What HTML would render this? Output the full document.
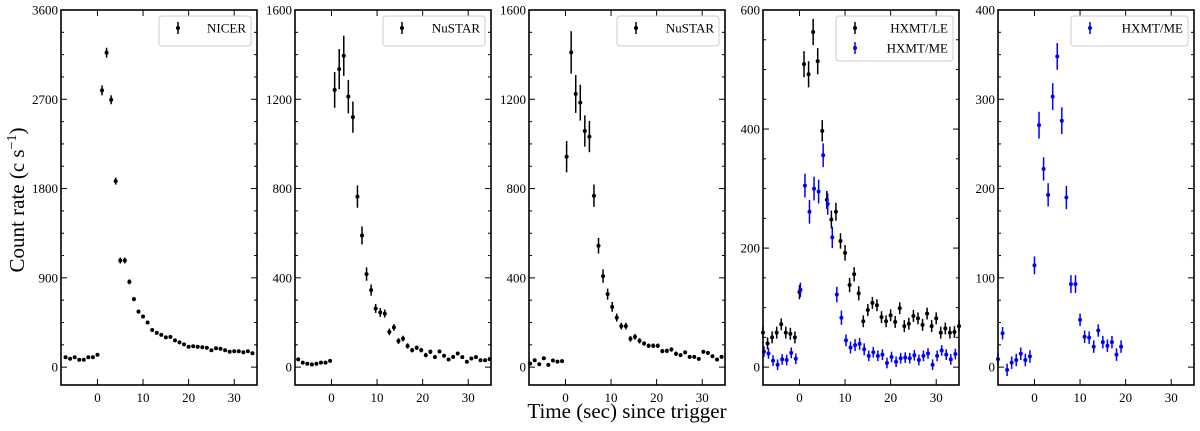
<!DOCTYPE html>
<html><head><meta charset="utf-8">
<style>
html,body{margin:0;padding:0;background:#fff;}
svg{display:block;font-family:"Liberation Serif",serif;}
</style></head>
<body>
<svg id="chart" width="1200" height="431" viewBox="0 0 1200 431" xmlns="http://www.w3.org/2000/svg">
<text x="0" y="0" transform="translate(24,200) rotate(-90)" font-size="21" text-anchor="middle">Count rate (c s<tspan font-size="14" dy="-8">−1</tspan><tspan dy="8">)</tspan></text>
<text x="627" y="418" font-size="21" text-anchor="middle">Time (sec) since trigger</text>
</svg>
<script>
// ---- data ----
const nicerX = [-7,-6,-5,-4,-3,-2,-1,0,1,2,3,4,5,6,7,8,9,10,11,12,13,14,15,16,17,18,19,20,21,22,23,24,25,26,27,28,29,30,31,32,33,34];
const nicerY = [100,85,100,75,75,100,100,125,2790,3170,2695,1875,1075,1075,860,685,560,510,450,375,345,325,300,305,270,250,230,205,210,205,200,195,170,190,185,170,155,160,160,150,160,140];
const nicerErr = [15,15,15,15,15,15,15,15,50,50,45,35,30,30,25,20,20,18,15,15,15,12,12,12,12,12,12,12,12,12,12,12,12,12,12,12,12,12,12,12,12,12];

const nustar1X = [-7.3,-6.3,-5.3,-4.3,-3.3,-2.3,-1.3,-0.3,0.7,1.7,2.7,3.7,4.7,5.7,6.7,7.7,8.7,9.7,10.7,11.7,12.7,13.7,14.7,15.7,16.7,17.7,18.7,19.7,20.7,21.7,22.7,23.7,24.7,25.7,26.7,27.7,28.7,29.7,30.7,31.7,32.7,33.7,34.7];
const nustar1Y = [35,20,15,12,15,20,20,28,1242,1335,1395,1212,1120,764,590,417,345,263,245,240,158,178,117,128,95,76,87,76,54,69,45,70,51,34,46,61,45,24,39,45,31,31,36];
const nustar1Err = [6,6,6,6,6,6,6,6,80,90,90,75,70,50,40,30,25,20,20,18,15,15,13,13,12,10,10,10,10,10,8,8,8,8,8,8,8,8,8,8,8,8,8];

const nustar2X = [-7.75,-6.75,-5.75,-4.75,-3.75,-2.75,-1.75,-0.75,0.25,1.25,2.25,3.25,4.25,5.25,6.25,7.25,8.25,9.25,10.25,11.25,12.25,13.25,14.25,15.25,16.25,17.25,18.25,19.25,20.25,21.25,22.25,23.25,24.25,25.25,26.25,27.25,28.25,29.25,30.25,31.25,32.25,33.25,34.25];
const nustar2Y = [16,31,13,40,10,30,25,27,943,1410,1224,1185,1058,1033,768,544,408,327,270,222,184,184,127,136,118,106,96,96,96,72,73,79,60,54,66,46,46,37,69,64,49,34,46];
const nustar2Err = [6,6,6,6,6,6,6,6,70,95,85,80,70,70,50,35,30,25,22,18,15,15,13,13,12,10,10,10,10,10,10,10,10,8,8,8,8,8,8,8,8,8,8];

const leX = [-8,-7,-6,-5,-4,-3,-2,-1,0,1,2,3,4,5,6,7,8,9,10,11,12,13,14,15,16,17,18,19,20,21,22,23,24,25,26,27,28,29,30,31,32,33,34,35];
const leY = [58,40,50,58,72,58,56,50,126,509,492,563,514,397,281,248,261,212,192,138,156,124,77,96,108,104,84,77,87,76,99,69,73,86,82,71,90,69,82,58,65,58,59,69];
const leErr = [10,10,10,10,10,10,10,10,12,22,22,22,22,18,15,15,15,13,13,12,12,12,10,10,10,10,10,10,10,10,10,10,10,10,10,10,10,10,10,10,10,10,10,10];

const meX = [-7.8,-6.8,-5.8,-4.8,-3.8,-2.8,-1.8,-0.8,0.2,1.2,2.2,3.2,4.2,5.2,6.2,7.2,8.2,9.2,10.2,11.2,12.2,13.2,14.2,15.2,16.2,17.2,18.2,19.2,20.2,21.2,22.2,23.2,24.2,25.2,26.2,27.2,28.2,29.2,30.2,31.2,32.2,33.2,34.2];
const meY = [26,23,11,4,13,12,24,14,130,305,261,300,295,356,274,218,122,83,45,33,37,39,30,19,25,19,21,7,17,9,15,16,15,20,12,19,23,4,19,28,21,13,22];
const meErr = [9,9,9,9,9,9,9,9,12,20,20,20,20,20,18,18,13,12,10,10,10,10,10,9,9,9,9,9,9,9,9,9,9,9,9,9,9,9,9,9,9,9,9];

const me2X = [-8,-7,-6,-5,-4,-3,-2,-1,0,1,2,3,4,5,6,7,8,9,10,11,12,13,14,15,16,17,18,19];
const me2Y = [9,38,-3,5,8,15,8,12,114,271,222,193,303,348,276,190,93,93,53,34,33,23,41,28,24,28,14,23];
const me2Err = [7,7,7,7,7,7,7,7,10,15,13,13,15,15,15,13,10,10,7,7,7,7,7,7,7,7,7,7];

const xTicks = [0,10,20,30];
const yTicks1 = [0,900,1800,2700,3600];
const yTicks2 = [0,400,800,1200,1600];
const yTicks4 = [0,200,400,600];
const yTicks5 = [0,100,200,300,400];

const svg = document.getElementById('chart');
const NS = 'http://www.w3.org/2000/svg';
function mk(tag, attrs, parent){
  const e = document.createElementNS(NS, tag);
  for (const k in attrs) e.setAttribute(k, attrs[k]);
  (parent||svg).appendChild(e);
  return e;
}

const TOP = 10, BOT = 385, W = 196;
function panel(idx, left, yMax, yTicks, series, legend){
  const xMin = -8, xMax = 35, yMin = -0.05*yMax;
  const xs = v => left + (v - xMin) / (xMax - xMin) * W;
  const ys = v => BOT - (v - yMin) / (yMax - yMin) * (BOT - TOP);
  const g = mk('g', {});
  
  
  // ticks
  xTicks.forEach(t => {
    const x = xs(t);
    const a = mk('line', {x1:x, x2:x, y1:BOT, y2:BOT-6, stroke:'#000', 'stroke-width':1}, g);
    
    
    mk('line', {x1:x, x2:x, y1:TOP, y2:TOP+6, stroke:'#000', 'stroke-width':1}, g);
    const tl = mk('text', {x:x, y:BOT+17, 'font-size':13, 'text-anchor':'middle'}, g);
    tl.textContent = t;
    
    
  });
  const step = yTicks[1] - yTicks[0];
  for (let v = 0; v <= yMax; v += step/4) {
    const y = ys(v);
    const major = Math.abs(v/step - Math.round(v/step)) < 1e-6;
    const len = major ? 6 : 3;
    mk('line', {x1:left, x2:left+len, y1:y, y2:y, stroke:'#000', 'stroke-width':1}, g);
    mk('line', {x1:left+W, x2:left+W-len, y1:y, y2:y, stroke:'#000', 'stroke-width':1}, g);
  }
  yTicks.forEach(t => {
    const tl = mk('text', {x:left-3, y:ys(t)+4.5, 'font-size':13, 'text-anchor':'end'}, g);
    tl.textContent = t;
    
    
  });
  // series
  series.forEach(s => {
    const sg = mk('g', {}, g);
    
    
    for (let i = 0; i < s.x.length; i++) {
      const x = xs(s.x[i]);
      if (x < left || x > left + W) continue;
      const l = mk('line', {x1:x, x2:x, y1:ys(s.y[i]-s.e[i]), y2:ys(s.y[i]+s.e[i]), stroke:s.color, 'stroke-width':1.5}, sg);
      
      
      const c = mk('circle', {cx:x, cy:ys(s.y[i]), r:2, fill:s.color}, sg);
      
      
    }
  });
  // frame
  mk('rect', {x:left, y:TOP, width:W, height:BOT-TOP, fill:'none', stroke:'#000', 'stroke-width':1.6}, g);
  // legend
  const lw = legend.w, lh = 10 + 20*legend.items.length;
  const lx = left + W - 6 - lw, ly = TOP + 6;
  const lg = mk('g', {}, g);
  
  
  mk('rect', {x:lx, y:ly, width:lw, height:lh - (legend.items.length>1?5:0), rx:3, fill:'#fff', stroke:'#ccc', 'stroke-width':1}, lg);
  legend.items.forEach((it, k) => {
    const cy = ly + 12 + 20*k;
    const mx = lx + 19;
    const eg = mk('g', {}, lg);
    
    
    mk('line', {x1:mx, x2:mx, y1:cy-6, y2:cy+6, stroke:it.color, 'stroke-width':1.5}, eg);
    mk('circle', {cx:mx, cy:cy, r:2, fill:it.color}, eg);
    const t = mk('text', {x:lx+lw-5, y:cy+4.5, 'font-size':13, 'text-anchor':'end'}, eg);
    t.textContent = it.label;
  });
}

panel(1, 61, 3600, yTicks1, [{name:'nicer', x:nicerX, y:nicerY, e:nicerErr, color:'#000'}], {w:92, items:[{label:'NICER', color:'#000'}]});
panel(2, 295, 1600, yTicks2, [{name:'nustar', x:nustar1X, y:nustar1Y, e:nustar1Err, color:'#000'}], {w:102, items:[{label:'NuSTAR', color:'#000'}]});
panel(3, 529, 1600, yTicks2, [{name:'nustar', x:nustar2X, y:nustar2Y, e:nustar2Err, color:'#000'}], {w:102, items:[{label:'NuSTAR', color:'#000'}]});
panel(4, 763, 600, yTicks4, [
  {name:'hxmt-le', x:leX, y:leY, e:leErr, color:'#000'},
  {name:'hxmt-me', x:meX, y:meY, e:meErr, color:'#0000ff'}
], {w:117, items:[{label:'HXMT/LE', color:'#000'},{label:'HXMT/ME', color:'#0000ff'}]});
panel(5, 998, 400, yTicks5, [{name:'hxmt-me', x:me2X, y:me2Y, e:me2Err, color:'#0000ff'}], {w:117, items:[{label:'HXMT/ME', color:'#0000ff'}]});
</script>
</body></html>
